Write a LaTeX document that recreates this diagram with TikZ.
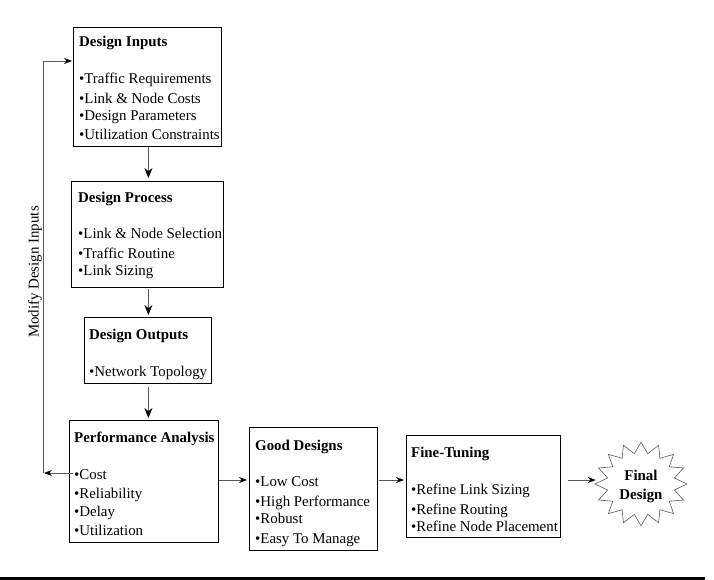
\documentclass[tikz,border=0pt]{standalone}
\usepackage{fontspec}
\setmainfont{Liberation Serif}
\usetikzlibrary{arrows.meta,calc}
\newcommand\myfs{\fontsize{14.9}{19}\selectfont}
\tikzset{
  box/.style={draw=black, line width=0.8pt, inner sep=0pt, anchor=north west},
  txt/.style={anchor=north west, inner sep=0pt, align=left, font=\myfs},
  conn/.style={draw=gray!70!black, line width=0.8pt},
  varr/.style={conn, -{Stealth[length=10pt,width=8pt,color=black]}},
  harr/.style={conn, -{Stealth[length=8pt,width=6pt,color=black]}},
}
\begin{document}
\begin{tikzpicture}[x=1pt,y=-1pt]
\useasboundingbox (0,0) rectangle (714,580);
% boxes
\node[box, minimum width=148, minimum height=119] (di) at (73,27) {};
\node[box, minimum width=152, minimum height=106] (dp) at (71,181) {};
\node[box, minimum width=127, minimum height=66] (do) at (84,317) {};
\node[box, minimum width=149, minimum height=122] (pa) at (69,420) {};
\node[box, minimum width=128, minimum height=123] (gd) at (249,427) {};
\node[box, minimum width=154, minimum height=102] (ft) at (406,435) {};
% texts
\node[txt] (dit) at (79,36) {\textbf{Design Inputs}\\[18pt]•Traffic Requirements\\[1pt]•Link \& Node Costs\\[-2pt]•Design Parameters\\•Utilization Constraints};
\node[txt] (dpt) at (78,192) {\textbf{Design Process}\\[17pt]•Link \& Node Selection\\[1pt]•Traffic Routine\\[-2pt]•Link Sizing};
\node[txt] (dot) at (89,329) {\textbf{Design Outputs}\\[18pt]•Network Topology};
\node[txt] (pat) at (74,432) {\textbf{Performance Analysis}\\[18pt]•Cost\\[0pt]•Reliability\\[-1pt]•Delay\\•Utilization};
\node[txt] (gdt) at (255,440) {\textbf{Good Designs}\\[17pt]•Low Cost\\[1pt]•High Performance\\[-2pt]•Robust\\[1pt]•Easy To Manage};
\node[txt] (ftt) at (411,447) {\textbf{Fine-Tuning}\\[18pt]•Refine Link Sizing\\[1pt]•Refine Routing\\[-2pt]•Refine Node Placement};
% star
\node[minimum width=90, minimum height=82, inner sep=0pt] (final) at (641,484) {};
\draw[draw=gray!70!black, line width=0.6pt] ({641+46},484)
  \foreach \k in {1,...,31} { -- ({641+(40+6*cos(180*\k))*cos(11.25*\k)},{484+(40+6*cos(180*\k))*0.91*sin(11.25*\k)}) } -- cycle;
\node[font=\myfs\bfseries, align=center, inner sep=0pt] (finalt) at ($(final.center)+(0,2)$) {Final\\Design};
% vertical arrows
\draw[varr] ($(di.south)+(1,0)$) -- ($(dp.north)+(1,-3)$);
\draw[varr] ($(dp.south)+(1,1)$) -- ($(do.north)+(0.5,-2)$);
\draw[varr] ($(do.south)+(0.5,3)$) -- ($(do.south |- pa.north)+(0.5,-2)$);
% horizontal arrows
\coordinate (row) at (0,480);
\draw[harr] (pa.east |- row) -- ($(gd.west |- row)+(-2,0)$);
\draw[harr] ($(gd.east |- row)+(1,0)$) -- ($(ft.west |- row)+(-2,0)$);
\draw[harr] ($(ft.east |- row)+(7,0)$) -- (final.west |- row);
% feedback
\coordinate (cost) at (73,473);
\coordinate (fb) at (43,473);
\coordinate (fbtop) at (43,61);
\draw[harr] (cost) -- ($(fb)+(1,0)$);
\draw[harr] (fb) -- (fbtop) -- ($(di.west |- fbtop)+(-1,0)$);
\node[font=\myfs, rotate=90, inner sep=0pt] (mdi) at (35,272) {Modify Design Inputs};
% bottom rule
\draw[line width=3pt] (0,578) -- (705,578);
\end{tikzpicture}
\end{document}
